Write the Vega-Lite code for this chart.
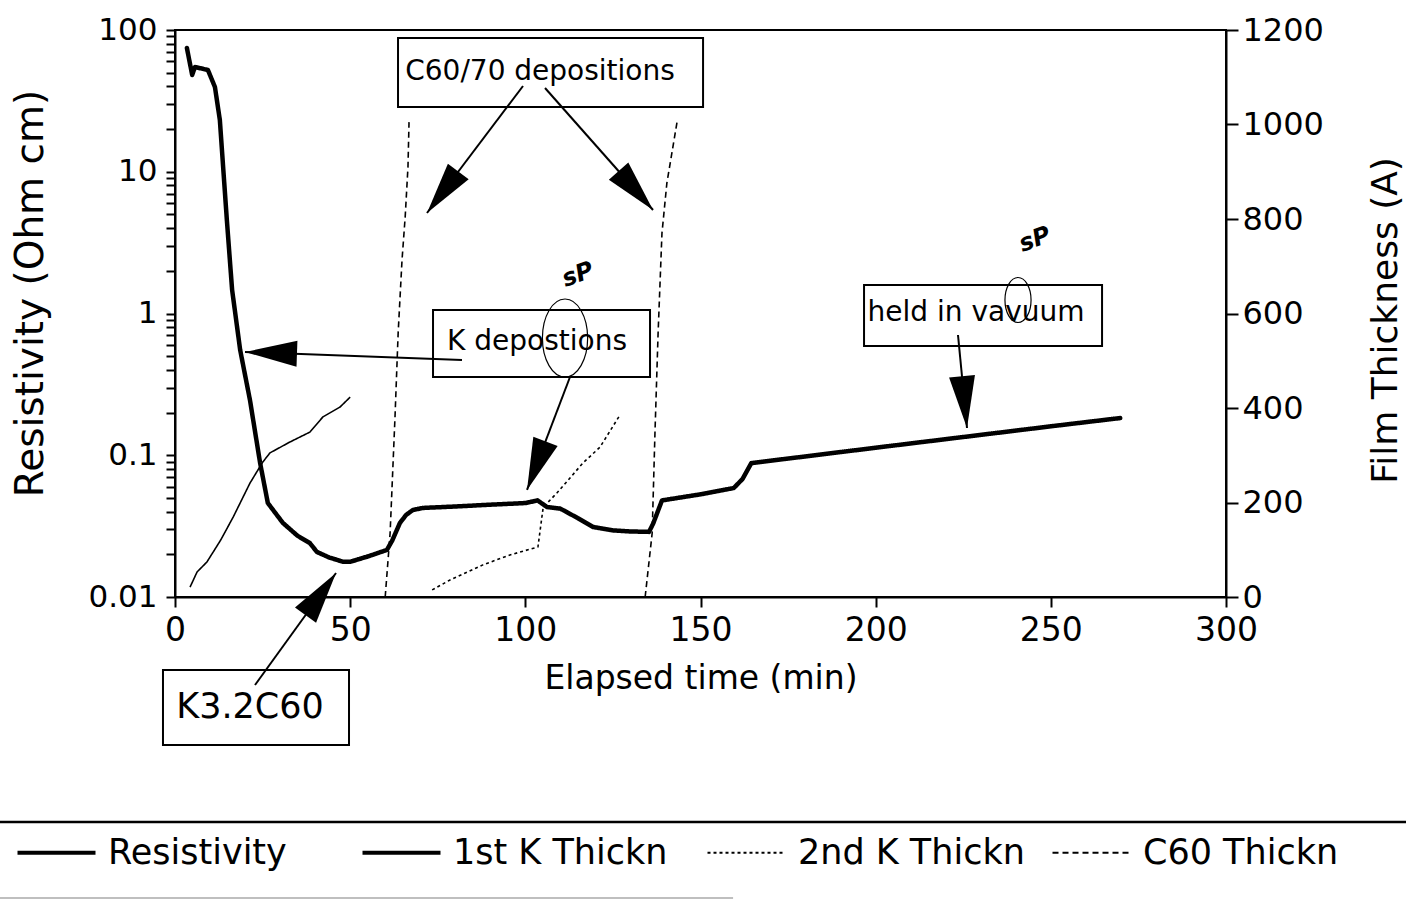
{
  "$schema": "https://vega.github.io/schema/vega-lite/v6.json",
  "width": 1051,
  "height": 567,
  "autosize": "none",
  "padding": {"left": 175, "top": 30, "right": 180, "bottom": 303},
  "background": "white",
  "config": {
    "font": "DejaVu Sans",
    "view": {"stroke": "black", "strokeWidth": 2},
    "axis": {"domainColor": "black", "domainWidth": 2, "tickColor": "black", "tickWidth": 2, "labelColor": "black", "titleColor": "black", "labelFont": "DejaVu Sans", "titleFont": "DejaVu Sans", "titleFontWeight": "normal", "grid": false, "labelFlush": false, "labelOverlap": false, "labelBound": false},
    "legend": {"orient": "none", "legendX": -157, "legendY": 805, "direction": "horizontal", "columns": 4, "symbolType": "stroke", "symbolSize": 6084, "symbolStrokeColor": "black", "symbolStrokeWidth": 3, "symbolOffset": 21, "labelFontSize": 35, "labelFont": "DejaVu Sans", "labelColor": "black", "labelOffset": 34, "columnPadding": 19, "gridAlign": "all", "labelLimit": 500, "padding": 0}
  },
  "datasets": {
    "res": [
      {"series": "Resistivity", "t": 3.4, "r": 74.6},
      {"series": "Resistivity", "t": 4.9, "r": 48.2},
      {"series": "Resistivity", "t": 5.7, "r": 54.8},
      {"series": "Resistivity", "t": 9.4, "r": 52.2},
      {"series": "Resistivity", "t": 11.4, "r": 39.6},
      {"series": "Resistivity", "t": 12.8, "r": 23.2},
      {"series": "Resistivity", "t": 14.8, "r": 4.57},
      {"series": "Resistivity", "t": 16.3, "r": 1.47},
      {"series": "Resistivity", "t": 18.6, "r": 0.553},
      {"series": "Resistivity", "t": 21.4, "r": 0.245},
      {"series": "Resistivity", "t": 24.3, "r": 0.088},
      {"series": "Resistivity", "t": 26.5, "r": 0.046},
      {"series": "Resistivity", "t": 30.8, "r": 0.0333},
      {"series": "Resistivity", "t": 35.0, "r": 0.027},
      {"series": "Resistivity", "t": 38.5, "r": 0.024},
      {"series": "Resistivity", "t": 40.5, "r": 0.0208},
      {"series": "Resistivity", "t": 44.0, "r": 0.019},
      {"series": "Resistivity", "t": 48.0, "r": 0.0177},
      {"series": "Resistivity", "t": 50.0, "r": 0.0177},
      {"series": "Resistivity", "t": 55.0, "r": 0.0193},
      {"series": "Resistivity", "t": 60.5, "r": 0.0215},
      {"series": "Resistivity", "t": 62.0, "r": 0.025},
      {"series": "Resistivity", "t": 64.2, "r": 0.0333},
      {"series": "Resistivity", "t": 66.0, "r": 0.038},
      {"series": "Resistivity", "t": 67.9, "r": 0.0411},
      {"series": "Resistivity", "t": 70.8, "r": 0.0425},
      {"series": "Resistivity", "t": 80.0, "r": 0.0435},
      {"series": "Resistivity", "t": 90.0, "r": 0.0448},
      {"series": "Resistivity", "t": 100.0, "r": 0.046},
      {"series": "Resistivity", "t": 103.5, "r": 0.048},
      {"series": "Resistivity", "t": 106.2, "r": 0.0431},
      {"series": "Resistivity", "t": 110.0, "r": 0.042},
      {"series": "Resistivity", "t": 115.0, "r": 0.036},
      {"series": "Resistivity", "t": 119.3, "r": 0.0312},
      {"series": "Resistivity", "t": 125.0, "r": 0.0295},
      {"series": "Resistivity", "t": 130.0, "r": 0.029},
      {"series": "Resistivity", "t": 135.3, "r": 0.0288},
      {"series": "Resistivity", "t": 136.5, "r": 0.033},
      {"series": "Resistivity", "t": 139.0, "r": 0.048},
      {"series": "Resistivity", "t": 150.0, "r": 0.053},
      {"series": "Resistivity", "t": 159.5, "r": 0.0587},
      {"series": "Resistivity", "t": 162.0, "r": 0.068},
      {"series": "Resistivity", "t": 164.5, "r": 0.088},
      {"series": "Resistivity", "t": 200.0, "r": 0.113},
      {"series": "Resistivity", "t": 250.0, "r": 0.16},
      {"series": "Resistivity", "t": 269.8, "r": 0.183}
    ],
    "thk": [
      {"series": "1st K Thickn", "seg": "a", "t": 4.3, "th": 21},
      {"series": "1st K Thickn", "seg": "a", "t": 6.3, "th": 53},
      {"series": "1st K Thickn", "seg": "a", "t": 9.1, "th": 74},
      {"series": "1st K Thickn", "seg": "a", "t": 13.0, "th": 120},
      {"series": "1st K Thickn", "seg": "a", "t": 16.6, "th": 169},
      {"series": "1st K Thickn", "seg": "a", "t": 21.4, "th": 241},
      {"series": "1st K Thickn", "seg": "a", "t": 25.0, "th": 285},
      {"series": "1st K Thickn", "seg": "a", "t": 27.1, "th": 305},
      {"series": "1st K Thickn", "seg": "a", "t": 32.8, "th": 328},
      {"series": "1st K Thickn", "seg": "a", "t": 38.5, "th": 349},
      {"series": "1st K Thickn", "seg": "a", "t": 42.2, "th": 381},
      {"series": "1st K Thickn", "seg": "a", "t": 47.1, "th": 402},
      {"series": "1st K Thickn", "seg": "a", "t": 50.0, "th": 423},
      {"series": "2nd K Thickn", "seg": "a", "t": 73.4, "th": 15},
      {"series": "2nd K Thickn", "seg": "a", "t": 78.5, "th": 36},
      {"series": "2nd K Thickn", "seg": "a", "t": 87.9, "th": 68},
      {"series": "2nd K Thickn", "seg": "a", "t": 95.6, "th": 89},
      {"series": "2nd K Thickn", "seg": "a", "t": 103.6, "th": 106},
      {"series": "2nd K Thickn", "seg": "a", "t": 105.1, "th": 190},
      {"series": "2nd K Thickn", "seg": "a", "t": 109.0, "th": 220},
      {"series": "2nd K Thickn", "seg": "a", "t": 116.5, "th": 284},
      {"series": "2nd K Thickn", "seg": "a", "t": 121.3, "th": 317},
      {"series": "2nd K Thickn", "seg": "a", "t": 127.0, "th": 385},
      {"series": "C60 Thickn", "seg": "a", "t": 60.0, "th": 0},
      {"series": "C60 Thickn", "seg": "a", "t": 61.4, "th": 135},
      {"series": "C60 Thickn", "seg": "a", "t": 62.8, "th": 381},
      {"series": "C60 Thickn", "seg": "a", "t": 63.7, "th": 559},
      {"series": "C60 Thickn", "seg": "a", "t": 64.8, "th": 713},
      {"series": "C60 Thickn", "seg": "a", "t": 65.7, "th": 804},
      {"series": "C60 Thickn", "seg": "a", "t": 66.5, "th": 910},
      {"series": "C60 Thickn", "seg": "a", "t": 66.8, "th": 1005},
      {"series": "C60 Thickn", "seg": "b", "t": 134.2, "th": 0},
      {"series": "C60 Thickn", "seg": "b", "t": 136.2, "th": 135},
      {"series": "C60 Thickn", "seg": "b", "t": 137.0, "th": 347},
      {"series": "C60 Thickn", "seg": "b", "t": 137.9, "th": 559},
      {"series": "C60 Thickn", "seg": "b", "t": 139.0, "th": 770},
      {"series": "C60 Thickn", "seg": "b", "t": 140.4, "th": 876},
      {"series": "C60 Thickn", "seg": "b", "t": 143.3, "th": 1005}
    ],
    "boxes": [
      {"label": "C60/70 depositions", "t0": 63.66, "t1": 150.73, "y0": 1037.0, "y1": 1183.1, "tc": 104.19, "yc": 1111.1},
      {"label": "K depostions", "t0": 73.65, "t1": 135.59, "y0": 465.6, "y1": 607.4, "tc": 103.33, "yc": 539.7},
      {"label": "held in vavuum", "t0": 196.68, "t1": 264.62, "y0": 531.2, "y1": 660.3, "tc": 228.65, "yc": 601.1},
      {"label": "K3.2C60", "t0": -3.43, "t1": 49.67, "y0": -313.2, "y1": -154.5, "tc": 21.41, "yc": -232.8}
    ],
    "arrows": [
      {"id": "A1", "t0": 99.34, "y0": 1081.5, "t1": 71.93, "y1": 812.7},
      {"id": "A2", "t0": 105.62, "y0": 1077.2, "t1": 136.45, "y1": 819.0},
      {"id": "A3", "t0": 81.92, "y0": 501.6, "t1": 19.98, "y1": 518.5},
      {"id": "A4", "t0": 112.75, "y0": 465.6, "t1": 100.48, "y1": 226.5},
      {"id": "A5", "t0": 223.5, "y0": 554.5, "t1": 226.07, "y1": 357.7},
      {"id": "A6", "t0": 22.84, "y0": -186.2, "t1": 45.96, "y1": 50.8}
    ],
    "frame": [
      {"kind": "top", "t0": -49.96, "t1": 351.4, "y": -476.2},
      {"kind": "bottom", "t0": -49.96, "t1": 159.3, "y": -637.0}
    ],
    "scrib": [
      {"kind": "e1", "t": 111.33, "th": 548.1, "txt": ""},
      {"kind": "e2", "t": 240.63, "th": 628.6, "txt": ""},
      {"kind": "s1", "t": 115.04, "th": 681.5, "txt": "sP"},
      {"kind": "s2", "t": 245.49, "th": 755.6, "txt": "sP"}
    ]
  },
  "layer": [
    {
      "data": {"name": "res"},
      "mark": {"type": "line", "color": "black", "strokeWidth": 4.5, "strokeJoin": "round", "strokeCap": "round"},
      "encoding": {
        "x": {"field": "t", "type": "quantitative", "scale": {"domain": [0, 300], "nice": false},
          "axis": {"values": [0, 50, 100, 150, 200, 250, 300], "tickSize": 10, "labelPadding": 7, "labelFontSize": 33, "title": "Elapsed time (min)", "titleFontSize": 33, "titleY": 81, "titleBaseline": "middle"}},
        "y": {"field": "r", "type": "quantitative", "scale": {"type": "log", "domain": [0.01, 100], "nice": false},
          "axis": {"values": [0.01, 0.02, 0.03, 0.04, 0.05, 0.06, 0.07, 0.08, 0.09, 0.1, 0.2, 0.3, 0.4, 0.5, 0.6, 0.7, 0.8, 0.9, 1, 2, 3, 4, 5, 6, 7, 8, 9, 10, 20, 30, 40, 50, 60, 70, 80, 90, 100],
            "labelExpr": "indexof(['0.01','0.1','1','10','100'], format(datum.value, '~g')) >= 0 ? format(datum.value, '~g') : ''",
            "tickSize": 9, "labelPadding": 9, "labelFontSize": 31, "title": "Resistivity (Ohm cm)", "titleFontSize": 39, "titleAngle": 270, "titleX": -145, "titleY": 263, "titleBaseline": "middle"}},
        "strokeDash": {"field": "series", "type": "nominal",
          "scale": {"domain": ["Resistivity", "1st K Thickn", "2nd K Thickn", "C60 Thickn"], "range": [[1, 0], [1, 0], [3, 3], [6, 4]]},
          "legend": {"title": null, "encode": {"symbols": {"update": {"strokeWidth": {"signal": "datum.value == 'Resistivity' || datum.value == '1st K Thickn' ? 4 : 2"}}}}}}
      }
    },
    {
      "layer": [
        {
          "data": {"name": "thk"},
          "mark": {"type": "line", "color": "black", "strokeWidth": 1.6},
          "encoding": {
            "x": {"field": "t", "type": "quantitative", "scale": {"domain": [0, 300], "nice": false}},
            "y": {"field": "th", "type": "quantitative", "scale": {"domain": [0, 1200], "nice": false},
              "axis": {"orient": "right", "values": [0, 200, 400, 600, 800, 1000, 1200], "format": "d", "tickSize": 12, "labelPadding": 4, "labelFontSize": 32, "title": "Film Thickness (A)", "titleFontSize": 36, "titleAngle": 270, "titleX": 159, "titleY": 290, "titleBaseline": "middle"}},
            "strokeDash": {"field": "series", "type": "nominal", "scale": {"domain": ["Resistivity", "1st K Thickn", "2nd K Thickn", "C60 Thickn"], "range": [[1, 0], [1, 0], [3, 3], [6, 4]]}},
            "detail": {"field": "seg", "type": "nominal"}
          }
        },
        {
          "data": {"name": "boxes"},
          "mark": {"type": "rect", "fill": "white", "stroke": "black", "strokeWidth": 2},
          "encoding": {
            "x": {"field": "t0", "type": "quantitative", "scale": {"domain": [0, 300], "nice": false}},
            "x2": {"field": "t1"},
            "y": {"field": "y0", "type": "quantitative", "scale": {"domain": [0, 1200], "nice": false}},
            "y2": {"field": "y1"}
          }
        },
        {
          "data": {"name": "boxes"},
          "transform": [{"filter": "datum.label != 'K3.2C60'"}],
          "mark": {"type": "text", "fontSize": 28, "color": "black", "align": "center", "baseline": "middle"},
          "encoding": {
            "x": {"field": "tc", "type": "quantitative", "scale": {"domain": [0, 300], "nice": false}},
            "y": {"field": "yc", "type": "quantitative", "scale": {"domain": [0, 1200], "nice": false}},
            "text": {"field": "label"}
          }
        },
        {
          "data": {"name": "boxes"},
          "transform": [{"filter": "datum.label == 'K3.2C60'"}],
          "mark": {"type": "text", "fontSize": 35, "color": "black", "align": "center", "baseline": "middle"},
          "encoding": {
            "x": {"field": "tc", "type": "quantitative", "scale": {"domain": [0, 300], "nice": false}},
            "y": {"field": "yc", "type": "quantitative", "scale": {"domain": [0, 1200], "nice": false}},
            "text": {"field": "label"}
          }
        },
        {
          "data": {"name": "arrows"},
          "mark": {"type": "rule", "color": "black", "strokeWidth": 2},
          "encoding": {
            "x": {"field": "t0", "type": "quantitative", "scale": {"domain": [0, 300], "nice": false}},
            "x2": {"field": "t1"},
            "y": {"field": "y0", "type": "quantitative", "scale": {"domain": [0, 1200], "nice": false}},
            "y2": {"field": "y1"}
          }
        },
        {"data": {"name": "arrows"}, "transform": [{"filter": "datum.id == 'A1'"}],
          "mark": {"type": "point", "shape": "M0,0L0.25,1L-0.25,1Z", "size": 10816, "filled": true, "color": "black", "opacity": 1, "angle": 217},
          "encoding": {"x": {"field": "t1", "type": "quantitative", "scale": {"domain": [0, 300], "nice": false}}, "y": {"field": "y1", "type": "quantitative", "scale": {"domain": [0, 1200], "nice": false}}}},
        {"data": {"name": "arrows"}, "transform": [{"filter": "datum.id == 'A2'"}],
          "mark": {"type": "point", "shape": "M0,0L0.25,1L-0.25,1Z", "size": 10816, "filled": true, "color": "black", "opacity": 1, "angle": 138.5},
          "encoding": {"x": {"field": "t1", "type": "quantitative", "scale": {"domain": [0, 300], "nice": false}}, "y": {"field": "y1", "type": "quantitative", "scale": {"domain": [0, 1200], "nice": false}}}},
        {"data": {"name": "arrows"}, "transform": [{"filter": "datum.id == 'A3'"}],
          "mark": {"type": "point", "shape": "M0,0L0.25,1L-0.25,1Z", "size": 10816, "filled": true, "color": "black", "opacity": 1, "angle": 272},
          "encoding": {"x": {"field": "t1", "type": "quantitative", "scale": {"domain": [0, 300], "nice": false}}, "y": {"field": "y1", "type": "quantitative", "scale": {"domain": [0, 1200], "nice": false}}}},
        {"data": {"name": "arrows"}, "transform": [{"filter": "datum.id == 'A4'"}],
          "mark": {"type": "point", "shape": "M0,0L0.25,1L-0.25,1Z", "size": 10816, "filled": true, "color": "black", "opacity": 1, "angle": 200.8},
          "encoding": {"x": {"field": "t1", "type": "quantitative", "scale": {"domain": [0, 300], "nice": false}}, "y": {"field": "y1", "type": "quantitative", "scale": {"domain": [0, 1200], "nice": false}}}},
        {"data": {"name": "arrows"}, "transform": [{"filter": "datum.id == 'A5'"}],
          "mark": {"type": "point", "shape": "M0,0L0.25,1L-0.25,1Z", "size": 10816, "filled": true, "color": "black", "opacity": 1, "angle": 174.5},
          "encoding": {"x": {"field": "t1", "type": "quantitative", "scale": {"domain": [0, 300], "nice": false}}, "y": {"field": "y1", "type": "quantitative", "scale": {"domain": [0, 1200], "nice": false}}}},
        {"data": {"name": "arrows"}, "transform": [{"filter": "datum.id == 'A6'"}],
          "mark": {"type": "point", "shape": "M0,0L0.25,1L-0.25,1Z", "size": 10816, "filled": true, "color": "black", "opacity": 1, "angle": 35.9},
          "encoding": {"x": {"field": "t1", "type": "quantitative", "scale": {"domain": [0, 300], "nice": false}}, "y": {"field": "y1", "type": "quantitative", "scale": {"domain": [0, 1200], "nice": false}}}},
        {"data": {"name": "scrib"}, "transform": [{"filter": "datum.kind == 'e1'"}],
          "mark": {"type": "point", "shape": "M-0.58,0A0.58,1,0,1,0,0.58,0A0.58,1,0,1,0,-0.58,0", "size": 6084, "filled": false, "color": "black", "strokeWidth": 1.2, "opacity": 1},
          "encoding": {"x": {"field": "t", "type": "quantitative", "scale": {"domain": [0, 300], "nice": false}}, "y": {"field": "th", "type": "quantitative", "scale": {"domain": [0, 1200], "nice": false}}}},
        {"data": {"name": "scrib"}, "transform": [{"filter": "datum.kind == 'e2'"}],
          "mark": {"type": "point", "shape": "M-0.58,0A0.58,1,0,1,0,0.58,0A0.58,1,0,1,0,-0.58,0", "size": 2025, "filled": false, "color": "black", "strokeWidth": 1.2, "opacity": 1},
          "encoding": {"x": {"field": "t", "type": "quantitative", "scale": {"domain": [0, 300], "nice": false}}, "y": {"field": "th", "type": "quantitative", "scale": {"domain": [0, 1200], "nice": false}}}},
        {"data": {"name": "scrib"}, "transform": [{"filter": "datum.txt != ''"}],
          "mark": {"type": "text", "fontSize": 24, "fontStyle": "italic", "fontWeight": "bold", "color": "black", "align": "center", "baseline": "middle", "angle": 340},
          "encoding": {"x": {"field": "t", "type": "quantitative", "scale": {"domain": [0, 300], "nice": false}}, "y": {"field": "th", "type": "quantitative", "scale": {"domain": [0, 1200], "nice": false}}, "text": {"field": "txt"}}},
        {
          "data": {"name": "frame"},
          "mark": {"type": "rule", "color": "black"},
          "encoding": {
            "x": {"field": "t0", "type": "quantitative", "scale": {"domain": [0, 300], "nice": false}},
            "x2": {"field": "t1"},
            "y": {"field": "y", "type": "quantitative", "scale": {"domain": [0, 1200], "nice": false}},
            "strokeWidth": {"condition": {"test": "datum.kind == 'top'", "value": 2.5}, "value": 1.2},
            "opacity": {"condition": {"test": "datum.kind == 'top'", "value": 1}, "value": 0.5}
          }
        }
      ]
    }
  ],
  "resolve": {"scale": {"y": "independent"}}
}
